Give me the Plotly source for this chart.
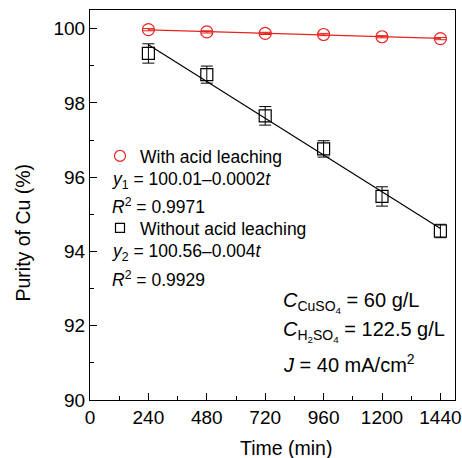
import numpy as np
import plotly.graph_objects as go

time_min = [240, 480, 720, 960, 1200, 1440]
purity_with = [99.97, 99.91, 99.87, 99.84, 99.78, 99.73]
err_with = [0.03, 0.03, 0.03, 0.03, 0.03, 0.03]
purity_without = [99.33, 98.76, 97.65, 96.76, 95.48, 94.55]
err_without = [0.26, 0.23, 0.25, 0.22, 0.26, 0.18]
x_ticks = [0, 240, 480, 720, 960, 1200, 1440]
y_ticks = [90, 92, 94, 96, 98, 100]

RED = "#e8231e"
FONT = "Liberation Sans, Arial, sans-serif"

fig = go.Figure()

# fit lines
for ys, col in [(purity_with, RED), (purity_without, "black")]:
    k, b = np.polyfit(time_min, ys, 1)
    xs = np.array([time_min[0], time_min[-1]])
    fig.add_trace(go.Scatter(x=xs, y=k * xs + b, mode="lines",
                             line=dict(color=col, width=1.2), showlegend=False,
                             hoverinfo="skip"))

fig.add_trace(go.Scatter(
    x=time_min, y=purity_with, mode="markers", showlegend=False,
    marker=dict(symbol="circle-open", size=12, color=RED, line=dict(width=1.2, color=RED)),
    error_y=dict(type="data", array=err_with, color=RED, thickness=1, width=6)))
fig.add_trace(go.Scatter(
    x=time_min, y=purity_without, mode="markers", showlegend=False,
    marker=dict(symbol="square-open", size=12, color="black", line=dict(width=1.2, color="black")),
    error_y=dict(type="data", array=err_without, color="black", thickness=1, width=6)))

# legend-only entries
fig.add_trace(go.Scatter(x=[None], y=[None], mode="markers", name="With acid leaching",
                         marker=dict(symbol="circle-open", size=11, color=RED, line=dict(width=1.2, color=RED)),
                         legend="legend"))
fig.add_trace(go.Scatter(x=[None], y=[None], mode="markers", name="Without acid leaching",
                         marker=dict(symbol="square-open", size=9, color="black", line=dict(width=1.2, color="black")),
                         legend="legend2"))

axis_common = dict(showline=True, linecolor="black", linewidth=1.2, mirror=True,
                   ticks="inside", ticklen=7, tickwidth=1.2, tickcolor="black",
                   showgrid=False, zeroline=False, automargin=False,
                   tickfont=dict(family=FONT, size=19, color="black"))

fig.update_xaxes(range=[0, 1500], tickvals=x_ticks,
                 minor=dict(ticks="inside", ticklen=4, tickwidth=1.2, tickcolor="black", dtick=120, tick0=0),
                 **axis_common)
fig.update_yaxes(range=[90, 100.5], tickvals=y_ticks,
                 minor=dict(ticks="inside", ticklen=4, tickwidth=1.2, tickcolor="black", dtick=1, tick0=90),
                 **axis_common)

legend_common = dict(font=dict(family=FONT, size=17.5, color="black"), bgcolor="rgba(0,0,0,0)",
                     borderwidth=0, xanchor="left", yanchor="middle", itemwidth=30)

def px2paper_x(px):
    return (px - 90) / 365

def px2paper_y(py):
    return (400 - py) / 390

notes = [
    (110, 180, "<i>y</i><sub>1</sub> = 100.01–0.0002<i>t</i>", 17.5, 0),
    (110, 206, "<i>R</i><sup>2</sup> = 0.9971", 17.5, 0),
    (110, 252, "<i>y</i><sub>2</sub> = 100.56–0.004<i>t</i>", 17.5, 0),
    (110, 279, "<i>R</i><sup>2</sup> = 0.9929", 17.5, 0),
    (281, 302, "<i>C</i><sub>CuSO<sub>4</sub></sub> = 60 g/L", 20, 0),
    (281, 331, "<i>C</i><sub>H<sub>2</sub>SO<sub>4</sub></sub> = 122.5 g/L", 20, 0),
    (281, 363, "<i>J</i> = 40 mA/cm<sup>2</sup>", 20, 0),
]
annotations = []
for px, py, txt, fs, _ in notes:
    annotations.append(dict(x=px2paper_x(px), y=px2paper_y(py), xref="paper", yref="paper",
                            text=txt, showarrow=False, xanchor="left", yanchor="middle",
                            font=dict(family=FONT, size=fs, color="black")))

# axis titles
annotations.append(dict(x=px2paper_x(285.5), y=px2paper_y(448), xref="paper", yref="paper",
                        text="Time (min)", showarrow=False, xanchor="center", yanchor="middle",
                        font=dict(family=FONT, size=19.5, color="black")))
annotations.append(dict(x=px2paper_x(22), y=px2paper_y(232.5), xref="paper", yref="paper",
                        text="Purity of Cu (%)", showarrow=False, xanchor="center", yanchor="middle",
                        textangle=-90, font=dict(family=FONT, size=19.5, color="black")))

fig.update_layout(
    width=462, height=458,
    margin=dict(l=90, r=7, t=10, b=58),
    paper_bgcolor="white", plot_bgcolor="white",
    legend=dict(x=px2paper_x(100), y=px2paper_y(156), **legend_common),
    legend2=dict(x=px2paper_x(100), y=px2paper_y(228), **legend_common),
    annotations=annotations,
)

fig.write_html("out.html")
